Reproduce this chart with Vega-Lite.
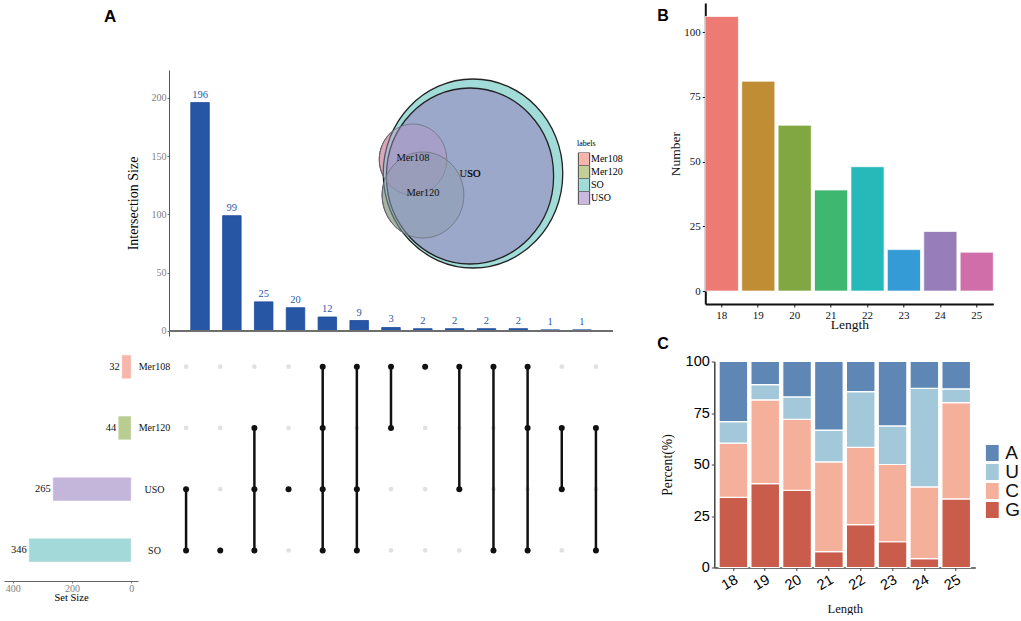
{
 "$schema": "https://vega.github.io/schema/vega-lite/v6.json",
 "padding": {"left": 4, "top": 3, "right": 0, "bottom": 0},
 "background": "white",
 "config": {"view": {"stroke": null}, "font": "Liberation Serif", "axis": {"grid": false}},
 "spacing": 34.3,
 "resolve": {"scale": {"color": "independent", "fill": "independent"}, "legend": {"color": "independent", "fill": "independent"}},
 "hconcat": [
  {"spacing": 0,
   "resolve": {"scale": {"color": "independent", "fill": "independent"}, "legend": {"color": "independent", "fill": "independent"}},
   "vconcat": [
   {"width": 134, "height": 67, "data": {"values": []}, "mark": "point",
    "title": {"text": "A", "anchor": "start", "frame": "group", "dx": 100, "offset": -36, "baseline": "alphabetic", "font": "Liberation Sans", "fontSize": 17, "fontWeight": "bold", "color": "#000"}},
   {"bounds": "flush", "spacing": 31,
    "resolve": {"scale": {"fill": "independent"}, "legend": {"fill": "independent"}},
    "hconcat": [
    {"width": 134, "height": 266, "data": {"values": []}, "mark": "point"},
    {"width": 444, "height": 266,
     "layer": [
      {"data": {"values": [{"id": 1, "size": 196}, {"id": 2, "size": 99}, {"id": 3, "size": 25}, {"id": 4, "size": 20}, {"id": 5, "size": 12}, {"id": 6, "size": 9}, {"id": 7, "size": 3}, {"id": 8, "size": 2}, {"id": 9, "size": 2}, {"id": 10, "size": 2}, {"id": 11, "size": 2}, {"id": 12, "size": 1}, {"id": 13, "size": 1}]},
       "layer": [
        {"mark": {"type": "bar", "fill": "#2756a4", "stroke": "#1e4b9c", "strokeWidth": 0.8},
         "encoding": {
          "x": {"field": "id", "type": "ordinal", "scale": {"paddingInner": 0.418, "paddingOuter": 0.684}, "axis": null},
          "y": {"field": "size", "type": "quantitative", "scale": {"domain": [-4.3, 224], "nice": false, "zero": false},
                "axis": {"title": "Intersection Size", "values": [0, 50, 100, 150, 200], "labelFont": "Liberation Serif", "labelFontSize": 10, "labelColor": "#808080", "tickColor": "#808080", "tickSize": 2, "domainColor": "#555", "labelPadding": 1, "titleFont": "Liberation Serif", "titleFontSize": 14, "titleFontWeight": "normal", "titleColor": "#000", "titlePadding": 11}},
          "y2": {"datum": 0}
         }},
        {"mark": {"type": "text", "baseline": "bottom", "dy": -3, "font": "Liberation Serif", "fontSize": 10.5, "color": "#2a5aa8"},
         "encoding": {
          "x": {"field": "id", "type": "ordinal"},
          "y": {"field": "size", "type": "quantitative"},
          "text": {"field": "size", "type": "quantitative"}
         }},
        {"data": {"values": [{}]}, "mark": {"type": "rule", "color": "#6e6e6e", "strokeWidth": 2}, "encoding": {"y": {"datum": 0}}}
       ]},
      {"data": {"values": [{"set": "SO", "vx": 304, "vy": 103.5}, {"set": "USO", "vx": 301, "vy": 106}, {"set": "Mer108", "vx": 244, "vy": 89.5}, {"set": "Mer120", "vx": 254, "vy": 125}]},
       "layer": [
        {"transform": [{"filter": "datum.set === 'Mer108'"}],
         "mark": {"type": "point", "shape": "M -0.95 0 A 0.95 1 0 1 1 0.95 0 A 0.95 1 0 1 1 -0.95 0 Z", "size": 5041, "filled": true, "opacity": 1, "stroke": "#222", "strokeWidth": 1},
         "encoding": {
          "x": {"field": "vx", "type": "quantitative", "scale": {"domain": [0, 444], "nice": false, "zero": false}, "axis": null},
          "y": {"field": "vy", "type": "quantitative", "scale": {"domain": [0, 266], "nice": false, "zero": false, "reverse": true}, "axis": null},
          "fill": {"field": "set", "type": "nominal", "scale": {"domain": ["Mer108", "Mer120", "SO", "USO"], "range": ["#f5b5ad", "#c3cf96", "#a2dcd9", "#c9b9df"]},
                   "legend": {"title": "labels", "orient": "none", "legendX": 408, "legendY": 70, "symbolType": "M -0.87 -1 H 0.87 V 1 H -0.87 Z", "symbolSize": 169, "symbolStrokeColor": "#333", "symbolStrokeWidth": 0.8, "symbolOpacity": 1, "rowPadding": 0, "clipHeight": 13, "labelFont": "Liberation Serif", "labelFontSize": 10, "labelColor": "#000", "labelOffset": 0, "titleFont": "Liberation Serif", "titleFontSize": 8, "titleFontWeight": "normal", "titleColor": "#000", "titlePadding": 4.5}}
         }},
        {"transform": [{"filter": "datum.set === 'Mer120'"}],
         "mark": {"type": "point", "shape": "M -0.95 0 A 0.95 1 0 1 1 0.95 0 A 0.95 1 0 1 1 -0.95 0 Z", "size": 7396, "filled": true, "opacity": 1, "stroke": "#222", "strokeWidth": 1},
         "encoding": {
          "x": {"field": "vx", "type": "quantitative"},
          "y": {"field": "vy", "type": "quantitative"},
          "fill": {"field": "set", "type": "nominal"}
         }},
        {"transform": [{"filter": "datum.set === 'SO'"}],
         "mark": {"type": "point", "shape": "M -0.95 0 A 0.95 1 0 1 1 0.95 0 A 0.95 1 0 1 1 -0.95 0 Z", "size": 35721, "filled": true, "opacity": 1, "fill": "#a2dcd9", "stroke": "#222", "strokeWidth": 1.3},
         "encoding": {"x": {"field": "vx", "type": "quantitative"}, "y": {"field": "vy", "type": "quantitative"}}},
        {"transform": [{"filter": "datum.set === 'USO'"}],
         "mark": {"type": "point", "shape": "M -0.95 0 A 0.95 1 0 1 1 0.95 0 A 0.95 1 0 1 1 -0.95 0 Z", "size": 30976, "filled": true, "opacity": 1, "fill": "#9ba8ca", "stroke": "#222", "strokeWidth": 1.3},
         "encoding": {"x": {"field": "vx", "type": "quantitative"}, "y": {"field": "vy", "type": "quantitative"}}},
        {"transform": [{"filter": "datum.set === 'Mer108'"}],
         "mark": {"type": "point", "shape": "M -0.95 0 A 0.95 1 0 1 1 0.95 0 A 0.95 1 0 1 1 -0.95 0 Z", "size": 5041, "filled": true, "opacity": 1, "fill": "#b494c4", "fillOpacity": 0.42, "stroke": "#707080", "strokeWidth": 0.8},
         "encoding": {"x": {"field": "vx", "type": "quantitative"}, "y": {"field": "vy", "type": "quantitative"}}},
        {"transform": [{"filter": "datum.set === 'Mer120'"}],
         "mark": {"type": "point", "shape": "M -0.95 0 A 0.95 1 0 1 1 0.95 0 A 0.95 1 0 1 1 -0.95 0 Z", "size": 7396, "filled": true, "opacity": 1, "fill": "#8d9cae", "fillOpacity": 0.5, "stroke": "#707080", "strokeWidth": 0.8},
         "encoding": {"x": {"field": "vx", "type": "quantitative"}, "y": {"field": "vy", "type": "quantitative"}}},
        {"data": {"values": [{"set": "Mer108", "vx": 244, "vy": 88}, {"set": "Mer120", "vx": 254, "vy": 123}, {"set": "USO", "vx": 301, "vy": 104}, {"set": "SO", "vx": 305, "vy": 104}]},
         "mark": {"type": "text", "font": "Liberation Serif", "fontSize": 10.5, "color": "#111"},
         "encoding": {"x": {"field": "vx", "type": "quantitative"}, "y": {"field": "vy", "type": "quantitative"}, "text": {"field": "set", "type": "nominal"}}}
       ]}
     ],
     "resolve": {"scale": {"x": "independent", "y": "independent"}}
    }
   ]},
   {"bounds": "flush", "spacing": 31,
    "resolve": {"scale": {"color": "independent"}, "legend": {"color": "independent"}},
    "hconcat": [
    {"width": 134, "height": 245,
     "data": {"values": [{"set": "Mer108", "size": 32}, {"set": "Mer120", "size": 44}, {"set": "USO", "size": 265}, {"set": "SO", "size": 346}]},
     "layer": [
      {"mark": {"type": "bar", "stroke": "#ffffff", "strokeWidth": 1, "strokeOpacity": 0.5},
       "encoding": {
        "y": {"field": "set", "type": "nominal", "sort": ["Mer108", "Mer120", "USO", "SO"], "scale": {"paddingInner": 0.61, "paddingOuter": 0.31}, "axis": null},
        "x": {"field": "size", "type": "quantitative", "scale": {"domain": [-23, 430], "nice": false, "zero": false, "reverse": true},
              "axis": {"title": "Set Size", "values": [0, 100, 200, 300, 400], "labelFont": "Liberation Serif", "labelFontSize": 10, "labelColor": "#808080", "tickColor": "#808080", "tickSize": 2, "domainColor": "#666", "labelPadding": 0, "titleFont": "Liberation Serif", "titleFontSize": 10.5, "titleFontWeight": "normal", "titleColor": "#000", "titlePadding": -1}},
        "x2": {"datum": 0},
        "color": {"field": "set", "type": "nominal", "scale": {"domain": ["Mer108", "Mer120", "USO", "SO"], "range": ["#f6b6ac", "#b9cd93", "#c4b5da", "#a3d9d8"]}, "legend": null}
       }},
      {"mark": {"type": "text", "align": "right", "dx": -2, "font": "Liberation Serif", "fontSize": 10.5, "color": "#111"},
       "encoding": {
        "y": {"field": "set", "type": "nominal", "sort": ["Mer108", "Mer120", "USO", "SO"], "scale": {"paddingInner": 0.61, "paddingOuter": 0.31}, "axis": null},
        "x": {"field": "size", "type": "quantitative"},
        "text": {"field": "size", "type": "quantitative"}
       }}
     ]},
    {"width": 444, "height": 245,
     "data": {"values": [
      {"id": 1, "set": "Mer108", "in": 0}, {"id": 1, "set": "Mer120", "in": 0}, {"id": 1, "set": "USO", "in": 1}, {"id": 1, "set": "SO", "in": 1},
      {"id": 2, "set": "Mer108", "in": 0}, {"id": 2, "set": "Mer120", "in": 0}, {"id": 2, "set": "USO", "in": 0}, {"id": 2, "set": "SO", "in": 1},
      {"id": 3, "set": "Mer108", "in": 0}, {"id": 3, "set": "Mer120", "in": 1}, {"id": 3, "set": "USO", "in": 1}, {"id": 3, "set": "SO", "in": 1},
      {"id": 4, "set": "Mer108", "in": 0}, {"id": 4, "set": "Mer120", "in": 0}, {"id": 4, "set": "USO", "in": 1}, {"id": 4, "set": "SO", "in": 0},
      {"id": 5, "set": "Mer108", "in": 1}, {"id": 5, "set": "Mer120", "in": 1}, {"id": 5, "set": "USO", "in": 1}, {"id": 5, "set": "SO", "in": 1},
      {"id": 6, "set": "Mer108", "in": 1}, {"id": 6, "set": "Mer120", "in": 0}, {"id": 6, "set": "USO", "in": 1}, {"id": 6, "set": "SO", "in": 1},
      {"id": 7, "set": "Mer108", "in": 1}, {"id": 7, "set": "Mer120", "in": 1}, {"id": 7, "set": "USO", "in": 0}, {"id": 7, "set": "SO", "in": 0},
      {"id": 8, "set": "Mer108", "in": 1}, {"id": 8, "set": "Mer120", "in": 0}, {"id": 8, "set": "USO", "in": 0}, {"id": 8, "set": "SO", "in": 0},
      {"id": 9, "set": "Mer108", "in": 1}, {"id": 9, "set": "Mer120", "in": 0}, {"id": 9, "set": "USO", "in": 1}, {"id": 9, "set": "SO", "in": 0},
      {"id": 10, "set": "Mer108", "in": 1}, {"id": 10, "set": "Mer120", "in": 0}, {"id": 10, "set": "USO", "in": 0}, {"id": 10, "set": "SO", "in": 1},
      {"id": 11, "set": "Mer108", "in": 1}, {"id": 11, "set": "Mer120", "in": 1}, {"id": 11, "set": "USO", "in": 0}, {"id": 11, "set": "SO", "in": 1},
      {"id": 12, "set": "Mer108", "in": 0}, {"id": 12, "set": "Mer120", "in": 1}, {"id": 12, "set": "USO", "in": 1}, {"id": 12, "set": "SO", "in": 0},
      {"id": 13, "set": "Mer108", "in": 0}, {"id": 13, "set": "Mer120", "in": 1}, {"id": 13, "set": "USO", "in": 0}, {"id": 13, "set": "SO", "in": 1}
     ]},
     "layer": [
      {"mark": {"type": "point", "filled": true, "opacity": 1, "size": 22, "color": "#e1e1e1"},
       "encoding": {
        "x": {"field": "id", "type": "ordinal", "scale": {"paddingInner": 0.418, "paddingOuter": 0.684}, "axis": null},
        "y": {"field": "set", "type": "nominal", "sort": ["Mer108", "Mer120", "USO", "SO"], "scale": {"paddingInner": 0.61, "paddingOuter": 0.31},
              "axis": {"title": null, "domain": false, "ticks": false, "tickSize": 0, "labelAlign": "center", "labelPadding": 15, "labelFont": "Liberation Serif", "labelFontSize": 10, "labelColor": "#111"}}
       }},
      {"transform": [{"filter": "datum.in === 1"}],
       "mark": {"type": "line", "color": "#111", "strokeWidth": 2.5},
       "encoding": {"x": {"field": "id", "type": "ordinal"}, "y": {"field": "set", "type": "nominal", "sort": ["Mer108", "Mer120", "USO", "SO"]}, "detail": {"field": "id", "type": "ordinal"}}},
      {"transform": [{"filter": "datum.in === 1"}],
       "mark": {"type": "point", "filled": true, "opacity": 1, "size": 36, "color": "#111"},
       "encoding": {"x": {"field": "id", "type": "ordinal"}, "y": {"field": "set", "type": "nominal", "sort": ["Mer108", "Mer120", "USO", "SO"]}}}
     ]}
   ]}
  ]},
  {"spacing": 4.5,
   "resolve": {"scale": {"color": "independent"}, "legend": {"color": "independent"}},
   "vconcat": [
   {"width": 288, "height": 301,
    "title": {"text": "B", "anchor": "start", "frame": "group", "dx": -48, "offset": -34, "baseline": "alphabetic", "font": "Liberation Sans", "fontSize": 16, "fontWeight": "bold", "color": "#000"},
    "data": {"values": [{"len": 18, "count": 106}, {"len": 19, "count": 81}, {"len": 20, "count": 64}, {"len": 21, "count": 39}, {"len": 22, "count": 48}, {"len": 23, "count": 16}, {"len": 24, "count": 23}, {"len": 25, "count": 15}]},
    "mark": {"type": "bar", "stroke": "#ffffff", "strokeWidth": 1, "strokeOpacity": 0.7},
    "encoding": {
     "x": {"field": "len", "type": "ordinal", "scale": {"paddingInner": 0.09, "paddingOuter": 0},
           "axis": {"title": "Length", "labelAngle": 0, "labelFont": "Liberation Serif", "labelFontSize": 11, "labelColor": "#111", "tickColor": "#111", "tickSize": 3, "domainColor": "#111", "domainWidth": 2, "labelPadding": 2, "titleFont": "Liberation Serif", "titleFontSize": 13.5, "titleFontWeight": "normal", "titleColor": "#111", "titlePadding": -3}},
     "y": {"field": "count", "type": "quantitative", "scale": {"domain": [-5, 111.2], "nice": false, "zero": false},
           "axis": {"title": "Number", "values": [0, 25, 50, 75, 100], "labelFont": "Liberation Serif", "labelFontSize": 11, "labelColor": "#111", "tickColor": "#111", "tickSize": 3, "domainColor": "#111", "domainWidth": 2, "labelPadding": 2, "titleFont": "Liberation Serif", "titleFontSize": 13.5, "titleFontWeight": "normal", "titleColor": "#111", "titlePadding": 1}},
     "y2": {"datum": 0},
     "color": {"field": "len", "type": "nominal", "scale": {"range": ["#ee7a74", "#c08d35", "#80a742", "#3eb870", "#27b8ba", "#359bd6", "#977dba", "#d06ea9"]}, "legend": null}
    }},
   {"bounds": "flush", "spacing": 8,
    "resolve": {"scale": {"color": "independent"}, "legend": {"color": "independent"}},
    "hconcat": [
    {"width": 1, "height": 206, "data": {"values": []}, "mark": "point"},
    {"width": 261, "height": 206,
     "title": {"text": "C", "anchor": "start", "frame": "group", "dx": -57, "offset": -11, "baseline": "alphabetic", "font": "Liberation Sans", "fontSize": 16, "fontWeight": "bold", "color": "#000"},
     "data": {"values": [
      {"len": 18, "nuc": "G", "pct": 34.0, "rank": 1}, {"len": 18, "nuc": "C", "pct": 26.4, "rank": 2}, {"len": 18, "nuc": "U", "pct": 10.4, "rank": 3}, {"len": 18, "nuc": "A", "pct": 29.2, "rank": 4},
      {"len": 19, "nuc": "G", "pct": 40.7, "rank": 1}, {"len": 19, "nuc": "C", "pct": 40.7, "rank": 2}, {"len": 19, "nuc": "U", "pct": 7.4, "rank": 3}, {"len": 19, "nuc": "A", "pct": 11.2, "rank": 4},
      {"len": 20, "nuc": "G", "pct": 37.5, "rank": 1}, {"len": 20, "nuc": "C", "pct": 34.4, "rank": 2}, {"len": 20, "nuc": "U", "pct": 10.9, "rank": 3}, {"len": 20, "nuc": "A", "pct": 17.2, "rank": 4},
      {"len": 21, "nuc": "G", "pct": 7.7, "rank": 1}, {"len": 21, "nuc": "C", "pct": 43.6, "rank": 2}, {"len": 21, "nuc": "U", "pct": 15.4, "rank": 3}, {"len": 21, "nuc": "A", "pct": 33.3, "rank": 4},
      {"len": 22, "nuc": "G", "pct": 20.8, "rank": 1}, {"len": 22, "nuc": "C", "pct": 37.5, "rank": 2}, {"len": 22, "nuc": "U", "pct": 27.1, "rank": 3}, {"len": 22, "nuc": "A", "pct": 14.6, "rank": 4},
      {"len": 23, "nuc": "G", "pct": 12.5, "rank": 1}, {"len": 23, "nuc": "C", "pct": 37.5, "rank": 2}, {"len": 23, "nuc": "U", "pct": 18.75, "rank": 3}, {"len": 23, "nuc": "A", "pct": 31.25, "rank": 4},
      {"len": 24, "nuc": "G", "pct": 4.35, "rank": 1}, {"len": 24, "nuc": "C", "pct": 34.78, "rank": 2}, {"len": 24, "nuc": "U", "pct": 47.83, "rank": 3}, {"len": 24, "nuc": "A", "pct": 13.04, "rank": 4},
      {"len": 25, "nuc": "G", "pct": 33.33, "rank": 1}, {"len": 25, "nuc": "C", "pct": 46.67, "rank": 2}, {"len": 25, "nuc": "U", "pct": 6.67, "rank": 3}, {"len": 25, "nuc": "A", "pct": 13.33, "rank": 4}
     ]},
     "mark": {"type": "bar", "stroke": "#ffffff", "strokeWidth": 1.2},
     "encoding": {
      "x": {"field": "len", "type": "ordinal", "scale": {"paddingInner": 0.1, "paddingOuter": 0.15},
            "axis": {"title": "Length", "labelAngle": -30, "labelFont": "Liberation Sans", "labelFontSize": 14.5, "labelColor": "#000", "tickColor": "#444", "tickSize": 3, "domainColor": "#444", "domainWidth": 1.5, "labelPadding": 2, "titleFont": "Liberation Serif", "titleFontSize": 12.6, "titleFontWeight": "normal", "titleColor": "#111", "titlePadding": 10}},
      "y": {"field": "pct", "type": "quantitative", "stack": "zero", "scale": {"domain": [0, 100], "nice": false},
            "axis": {"title": "Percent(%)", "values": [0, 25, 50, 75, 100], "labelFont": "Liberation Sans", "labelFontSize": 14.5, "labelColor": "#000", "tickColor": "#444", "tickSize": 3, "domainColor": "#444", "domainWidth": 1.5, "labelPadding": 2, "titleFont": "Liberation Serif", "titleFontSize": 13.7, "titleFontWeight": "normal", "titleColor": "#111", "titlePadding": 11}},
      "color": {"field": "nuc", "type": "nominal", "scale": {"domain": ["A", "U", "C", "G"], "range": ["#5f87b5", "#a3c8d9", "#f4b09a", "#c95c4a"]},
                "legend": {"title": null, "orient": "none", "legendX": 268.5, "legendY": 83, "symbolType": "M -0.8 -1 H 0.8 V 1 H -0.8 Z", "symbolSize": 256, "symbolOpacity": 1, "symbolStrokeWidth": 0, "clipHeight": 17, "labelFont": "Liberation Sans", "labelFontSize": 19, "labelColor": "#111", "labelOffset": 3.5, "rowPadding": -3}},
      "order": {"field": "rank", "type": "quantitative"}
     }}
   ]}
  ]}
 ]
}
